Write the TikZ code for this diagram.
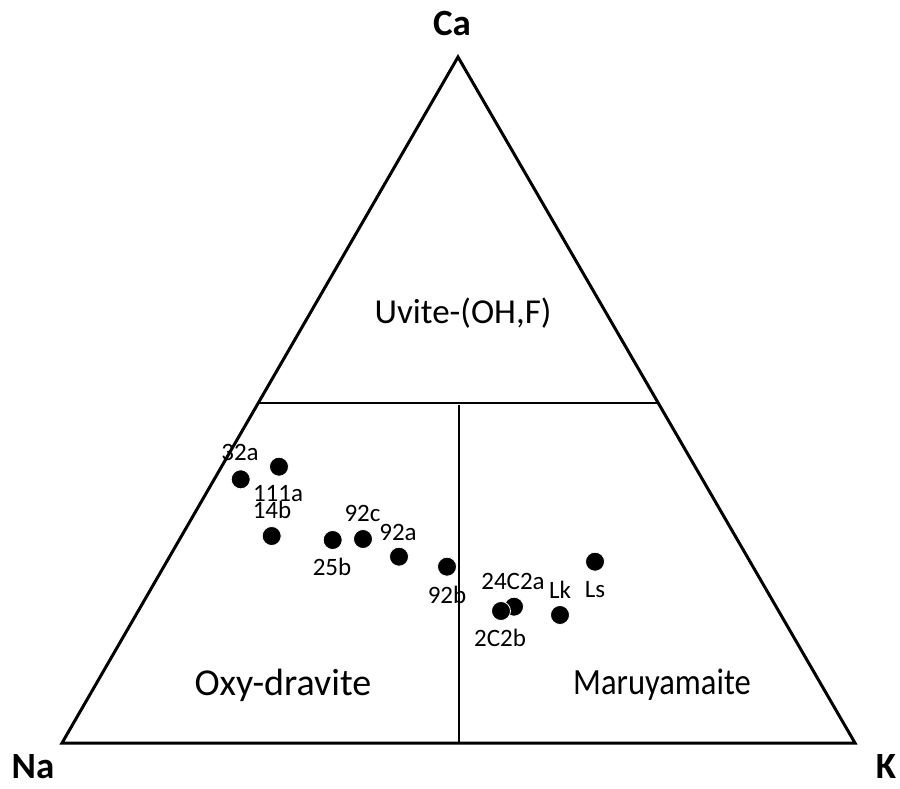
\documentclass[tikz,border=0pt]{standalone}
\usepackage{fontspec}
\setmainfont{Carlito}
\usepackage{tikz}
\usetikzlibrary{positioning}

\begin{document}
\begin{tikzpicture}[x=1pt, y=-1pt,
corner/.style={font=\fontsize{37}{40}\selectfont\bfseries, inner sep=0pt},
field/.style={font=\fontsize{35}{40}\selectfont, inner sep=0pt},
sample/.style={circle, fill=black, draw=white, line width=0.8pt, minimum size=19pt, inner sep=0pt},
tag/.style={font=\fontsize{25}{28}\selectfont, inner sep=0pt},
]
\useasboundingbox (0,0) rectangle (900,789);

%Corners
\coordinate (ca) at (458, 57);
\coordinate (na) at (62, 743);
\coordinate (k) at (855, 743);
\coordinate (left) at (258, 403);
\coordinate (right) at (658, 403);
\coordinate (top) at (459, 405);
\coordinate (bottom) at (459, 743);

%Triangle
\draw[black, line width=3pt, line join=miter] (ca) -- (na) -- (k) -- cycle;

%Field boundaries
\draw[black, line width=1.3pt] (left) -- (right);
\draw[black, line width=1.3pt] (top) -- (bottom);

%Corner labels
\node[corner] (lca) at (452, 24) {Ca};
\node[corner] (lna) at (33, 767) {Na};
\node[corner] (lk) at (886, 766) {K};

%Field labels
\node[field] (uvite) at (463, 313) {Uvite-(OH,F)};
\node[field, font=\fontsize{38}{42}\selectfont] (oxy) at (283, 685) {Oxy-dravite};
\node[field, font=\fontsize{37}{40}\selectfont] (maru) at (662, 685) {\scalebox{0.88}[1]{Maruyamaite}};

%Samples
\node[sample] (s32a) at (240.7, 479.3) {};
\node[sample] (s111a) at (279, 466.7) {};
\node[sample] (s14b) at (271.7, 536) {};
\node[sample] (s25b) at (332.7, 540) {};
\node[sample] (s92c) at (363, 539) {};
\node[sample] (s92a) at (399, 556.7) {};
\node[sample] (s92b) at (447, 566.7) {};
\node[sample] (s24c2a) at (514, 606.7) {};
\node[sample] (s2c2b) at (501, 611) {};
\node[sample] (slk) at (560, 615) {};
\node[sample] (sls) at (595, 561.7) {};

%Sample labels
\node[tag] (t32a) at (240, 452) {32a};
\node[tag] (t111a) at (278, 494) {111a};
\node[tag] (t14b) at (272, 510) {14b};
\node[tag] (t25b) at (332, 567) {25b};
\node[tag] (t92c) at (362.5, 513) {92c};
\node[tag] (t92a) at (398, 532) {92a};
\node[tag] (t92b) at (447, 595) {92b};
\node[tag] (t24c2a) at (513, 581) {24C2a};
\node[tag] (t2c2b) at (500, 638) {2C2b};
\node[tag] (tlk) at (560, 590) {Lk};
\node[tag] (tls) at (595, 590) {Ls};
\end{tikzpicture}
\end{document}
